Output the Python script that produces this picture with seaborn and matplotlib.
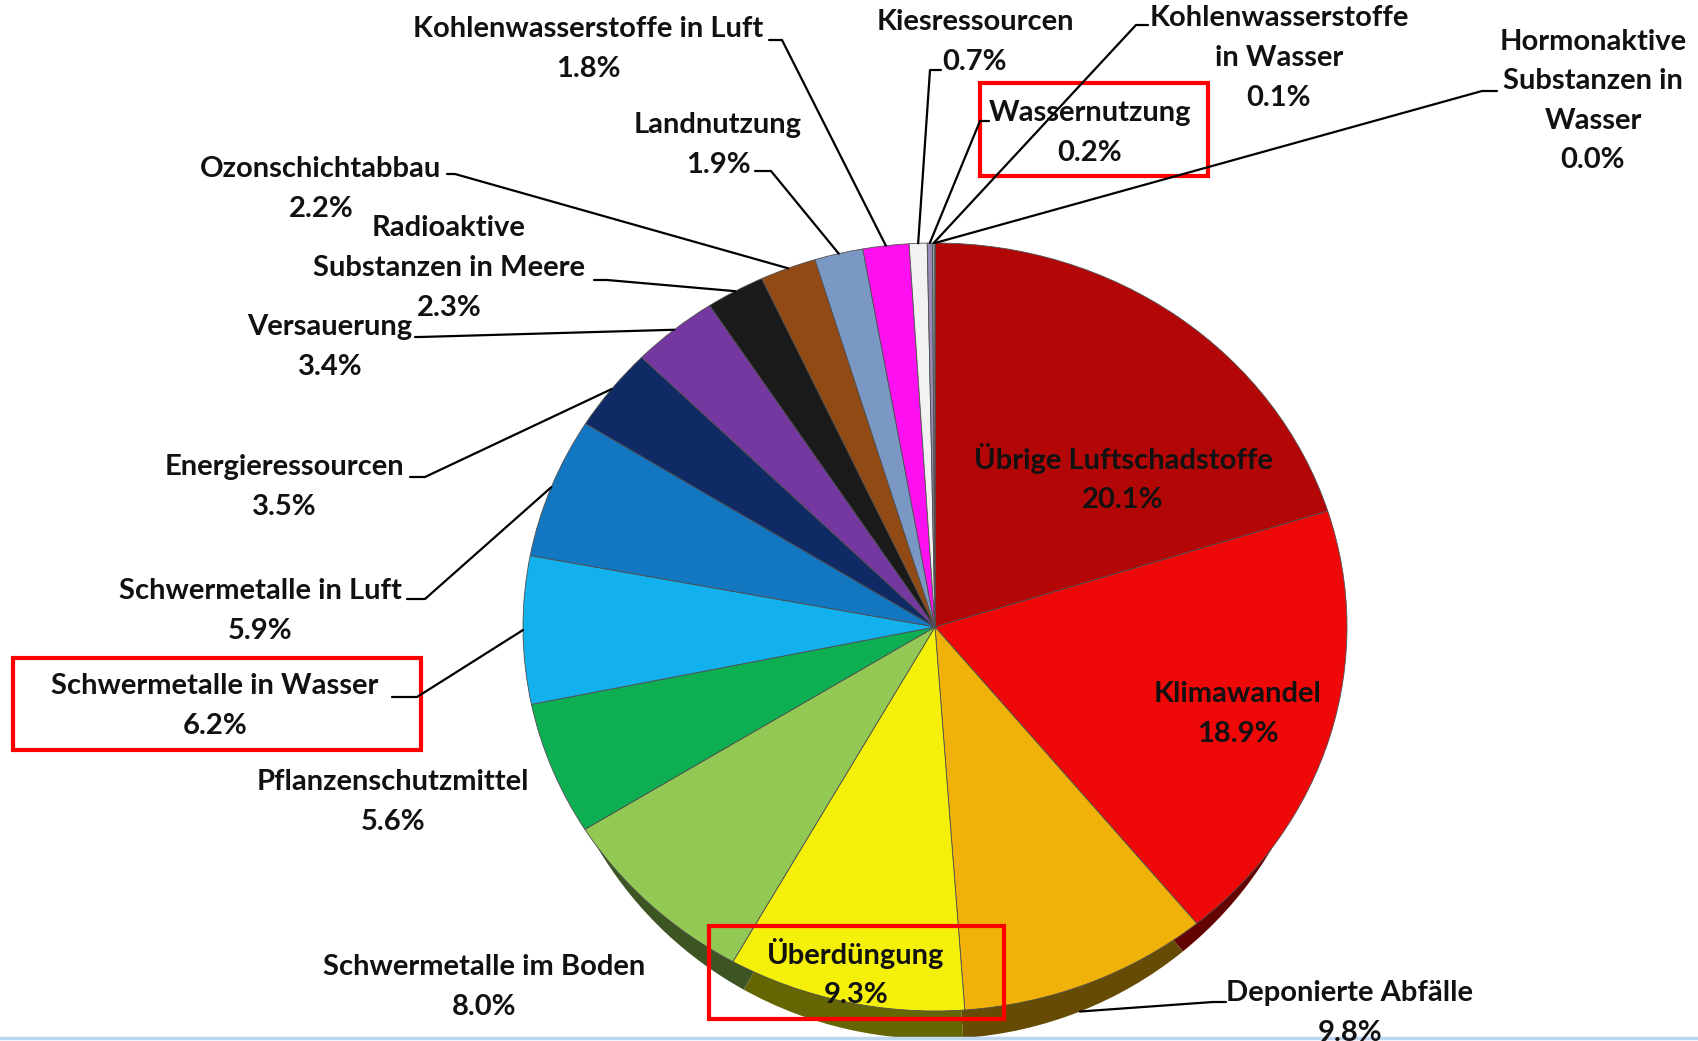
import numpy as np
import matplotlib.pyplot as plt
import seaborn as sns
from matplotlib.patches import Rectangle
from matplotlib.colors import to_rgb

# shares of the environmental impact categories (clockwise from 12 o'clock)
categories = [
    "Übrige Luftschadstoffe", "Klimawandel", "Deponierte Abfälle", "Überdüngung",
    "Schwermetalle im Boden", "Pflanzenschutzmittel", "Schwermetalle in Wasser",
    "Schwermetalle in Luft", "Energieressourcen", "Versauerung",
    "Radioaktive Substanzen in Meere", "Ozonschichtabbau", "Landnutzung",
    "Kohlenwasserstoffe in Luft", "Kiesressourcen", "Wassernutzung",
    "Kohlenwasserstoffe in Wasser", "Hormonaktive Substanzen in Wasser",
]
shares = [20.1, 18.9, 9.8, 9.3, 8.0, 5.6, 6.2, 5.9, 3.5, 3.4,
          2.3, 2.2, 1.9, 1.8, 0.7, 0.2, 0.1, 0.0]
label_text = [
    "Übrige Luftschadstoffe", "Klimawandel", "Deponierte Abfälle", "Überdüngung",
    "Schwermetalle im Boden", "Pflanzenschutzmittel", "Schwermetalle in Wasser",
    "Schwermetalle in Luft", "Energieressourcen", "Versauerung",
    "Radioaktive\nSubstanzen in Meere", "Ozonschichtabbau", "Landnutzung",
    "Kohlenwasserstoffe in Luft", "Kiesressourcen", "Wassernutzung",
    "Kohlenwasserstoffe\nin Wasser", "Hormonaktive\nSubstanzen in\nWasser",
]
slice_colors = [
    "#b30707", "#ee0808", "#f0b208", "#f4f00a", "#92c853", "#0daf52",
    "#12b0ec", "#1276c1", "#0f2a64", "#7438a0", "#1a1a1a", "#924a14",
    "#7b97c4", "#ff10f0", "#f2f2f2", "#9a8ab8", "#8aa0a0", "#b0b0b0",
]

# layout in pixel coordinates of the 1699x1041 picture
W, H = 1699, 1041
cx, cy, rx, ry = 935, 627, 412, 384
depth, inset = 28, 22   # visible thickness at the bottom, side shrink

label_pos = {
    "Übrige Luftschadstoffe": (1123, 478),
    "Klimawandel": (1238, 714),
    "Deponierte Abfälle": (1350, 1013),
    "Überdüngung": (856, 973),
    "Schwermetalle im Boden": (484, 987),
    "Pflanzenschutzmittel": (393, 802),
    "Schwermetalle in Wasser": (215, 706),
    "Schwermetalle in Luft": (260, 611),
    "Energieressourcen": (284, 487),
    "Versauerung": (330, 347),
    "Radioaktive Substanzen in Meere": (449, 268),
    "Ozonschichtabbau": (321, 189),
    "Landnutzung": (718, 145),
    "Kohlenwasserstoffe in Luft": (588, 49),
    "Kiesressourcen": (975, 42),
    "Wassernutzung": (1090, 133),
    "Kohlenwasserstoffe in Wasser": (1279, 58),
    "Hormonaktive Substanzen in Wasser": (1593, 101),
}
# label side of each leader line: (start, elbow)
leaders = {
    "Deponierte Abfälle": [(1226, 1002), (1213, 1002)],
    "Schwermetalle in Wasser": [(392, 697), (417, 697)],
    "Schwermetalle in Luft": [(407, 599), (425, 599)],
    "Energieressourcen": [(410, 477), (425, 477)],
    "Versauerung": [(415, 337), (420, 337)],
    "Radioaktive Substanzen in Meere": [(594, 280), (607, 280)],
    "Ozonschichtabbau": [(447, 174), (455, 174)],
    "Landnutzung": [(755, 171), (771, 171)],
    "Kohlenwasserstoffe in Luft": [(769, 40), (782, 40)],
    "Kiesressourcen": [(941, 70), (930, 70)],
    "Wassernutzung": [(989, 121), (980, 121)],
    "Kohlenwasserstoffe in Wasser": [(1148, 25), (1136, 25)],
    "Hormonaktive Substanzen in Wasser": [(1497, 91), (1482, 91)],
}
boxes = {
    "Wassernutzung": (980, 83, 228, 93),
    "Schwermetalle in Wasser": (13, 658, 408, 92),
    "Überdüngung": (709, 926, 295, 93),
}

sns.set_theme(style="white")
plt.rcParams["font.family"] = ["Lato", "DejaVu Sans"]

fig = plt.figure(figsize=(W / 100, H / 100), dpi=100)


def pie_axes(x0, y0, w, h, z):
    ax = fig.add_axes([x0 / W, 1 - (y0 + h) / H, w / W, h / H])
    ax.set_zorder(z)
    return ax


pal = sns.color_palette(slice_colors)
dark = [tuple(c * 0.42 for c in to_rgb(col)) for col in pal]

# darker, slightly narrower copy shifted down gives the pie its thickness
sax = pie_axes(cx - rx + inset, cy - ry + depth, 2 * (rx - inset), 2 * ry, 0)
swedges, _ = sax.pie(shares, colors=dark, startangle=90, counterclock=False,
                     wedgeprops=dict(linewidth=0))
pax = pie_axes(cx - rx, cy - ry, 2 * rx, 2 * ry, 1)
wedges, _ = pax.pie(shares, colors=pal, startangle=90, counterclock=False,
                    wedgeprops=dict(linewidth=0.6, edgecolor="#505050"))
for ax in (sax, pax):
    ax.set_aspect("auto")
    ax.set_xlim(-1, 1)
    ax.set_ylim(-1, 1)
    ax.axis("off")

oax = fig.add_axes([0, 0, 1, 1])
oax.set_zorder(3)
oax.set_xlim(0, W)
oax.set_ylim(H, 0)
oax.axis("off")

to_over = oax.transData.inverted()
for name, txt, val, w, sw in zip(categories, label_text, shares, wedges, swedges):
    x, y = label_pos[name]
    oax.text(x, y, f"{txt}\n{val:.1f}%", ha="center", va="center",
             fontsize=21, fontweight="bold", color="#111111", linespacing=1.65)
    if name in leaders:
        th = np.deg2rad((w.theta1 + w.theta2) / 2)
        ex, ey = np.cos(th), np.sin(th)
        src = sax if ey < -0.6 else pax
        edge = to_over.transform(src.transData.transform((ex, ey)))
        pts = leaders[name] + [tuple(edge)]
        oax.plot([p[0] for p in pts], [p[1] for p in pts], color="black", lw=1.6)

for name, (bx, by, bw, bh) in boxes.items():
    oax.add_patch(Rectangle((bx, by), bw, bh, fill=False, edgecolor="#ff0000", lw=3))

oax.axhline(1038, color="#bdd7ee", lw=2.5)

fig.savefig("out.png", dpi=100)
